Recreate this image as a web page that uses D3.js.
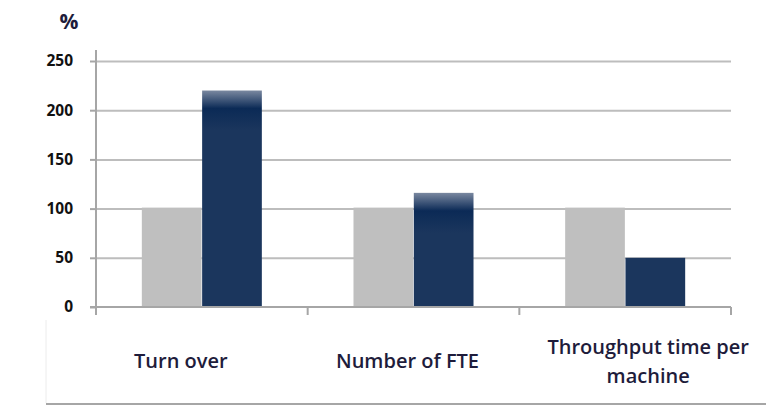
<!DOCTYPE html>
<html>
<head>
<meta charset="utf-8">
<script src="https://d3js.org/d3.v7.min.js"></script>
<style>
  body { margin: 0; background: #fff; }
  text { font-family: "Open Sans", sans-serif; }
</style>
</head>
<body>
<div id="chart-area"></div>
<script>
// data
const categories = ["Turn over", "Number of FTE", "Throughput time per machine"];
const categoryLines = [["Turn over"], ["Number of FTE"], ["Throughput time per", "machine"]];
const series = ["before", "after"];
const beforeValues = [101, 101, 101];
const afterValues = [220, 116, 50];
const yTicks = [0, 50, 100, 150, 200, 250];

const canvas_dims = { width: 766, height: 411 };
const margins = { top: 61, right: 35, bottom: 104, left: 96 };
const content_dims = {
  width: canvas_dims.width - margins.left - margins.right,
  height: canvas_dims.height - margins.top - margins.bottom
};
// small horizontal nudges of the category labels, as in the original
const labelNudge = [-21, -6, 23];

const svg = d3
  .select("#chart-area")
  .append("svg")
  .attr("width", canvas_dims.width)
  .attr("height", canvas_dims.height);

const defs = svg.append("defs");

const group = svg
  .append("g")
  .attr("transform", `translate(${margins.left},${margins.top})`);

const scales = {
  x0: d3
    .scaleBand()
    .domain(categories)
    .range([0, content_dims.width])
    .paddingInner(0.433)
    .paddingOuter(0.2165),
  y: d3.scaleLinear().domain([0, 250]).range([content_dims.height, 0])
};
scales.x1 = d3
  .scaleBand()
  .domain(series)
  .range([0, scales.x0.bandwidth()])
  .paddingInner(0.01);

const colors = { before: "#bfbfbf", after: "#1b365d" };

// gridlines
const grid = group
  .append("g")
  .attr("class", "grid")
  .call(
    d3.axisLeft(scales.y)
      .tickValues(yTicks.slice(1))
      .tickSize(-content_dims.width)
      .tickFormat("")
  );
grid.select(".domain").remove();
grid.selectAll("line").attr("stroke", "#bdbdbd").attr("stroke-width", 2);

// bars
const rows = categories.map((c, i) => ({
  category: c,
  values: [
    { key: "before", value: beforeValues[i] },
    { key: "after", value: afterValues[i] }
  ]
}));

// glossy top for the bars that rise above the baseline
rows.forEach((row, i) => {
  const top = scales.y(row.values[1].value);
  const grad = defs
    .append("linearGradient")
    .attr("id", `gloss-${i}`)
    .attr("gradientUnits", "userSpaceOnUse")
    .attr("x1", 0).attr("x2", 0)
    .attr("y1", top)
    .attr("y2", top + 40);
  grad.append("stop").attr("offset", "0%").attr("stop-color", "#7a88a0");
  grad.append("stop").attr("offset", "45%").attr("stop-color", "#0b2a56");
  grad.append("stop").attr("offset", "100%").attr("stop-color", colors.after);
});

const catGroups = group
  .selectAll("g.cat")
  .data(rows)
  .enter()
  .append("g")
  .attr("class", "cat")
  .attr("transform", d => `translate(${scales.x0(d.category)},0)`);

catGroups
  .selectAll("rect")
  .data((d, i) => d.values.map(v => ({ ...v, idx: i })))
  .enter()
  .append("rect")
  .attr("x", d => scales.x1(d.key))
  .attr("y", d => scales.y(d.value))
  .attr("width", scales.x1.bandwidth())
  .attr("height", d => content_dims.height - scales.y(d.value))
  .attr("fill", d =>
    d.key === "after" && d.value > 100 ? `url(#gloss-${d.idx})` : colors[d.key]
  );

// left axis
const yAxis = group
  .append("g")
  .attr("class", "left axis")
  .call(d3.axisLeft(scales.y).tickValues(yTicks).tickSize(6).tickPadding(17));
yAxis.select(".domain").remove();
yAxis.selectAll("line").attr("stroke", "#a6a6a6").attr("stroke-width", 2);
yAxis
  .selectAll("text")
  .attr("font-family", "Open Sans, sans-serif")
  .attr("font-size", "15.5px")
  .attr("font-weight", 700)
  .attr("fill", "#111");
group
  .append("line")
  .attr("x1", 0).attr("x2", 0)
  .attr("y1", -11).attr("y2", content_dims.height + 8)
  .attr("stroke", "#a6a6a6")
  .attr("stroke-width", 2);

// bottom axis with ticks at the category boundaries
const step = scales.x0.step();
const bounds = d3.range(categories.length + 1).map(i => i * step);
group
  .append("line")
  .attr("x1", -6).attr("x2", content_dims.width)
  .attr("y1", content_dims.height).attr("y2", content_dims.height)
  .attr("stroke", "#a6a6a6")
  .attr("stroke-width", 2);
group
  .selectAll("line.xtick")
  .data(bounds)
  .enter()
  .append("line")
  .attr("class", "xtick")
  .attr("x1", d => d).attr("x2", d => d)
  .attr("y1", content_dims.height).attr("y2", content_dims.height + 8)
  .attr("stroke", "#a6a6a6")
  .attr("stroke-width", 2);

// category labels
const lineGap = 29;
const labels = group
  .selectAll("text.cat-label")
  .data(categoryLines)
  .enter()
  .append("text")
  .attr("class", "cat-label")
  .attr("text-anchor", "middle")
  .attr("font-size", "20px")
  .attr("font-weight", 600)
  .attr("fill", "#1e1c3b")
  .attr("transform", (d, i) =>
    `translate(${scales.x0(categories[i]) + scales.x0.bandwidth() / 2 + labelNudge[i]},
      ${content_dims.height + 61 - ((d.length - 1) * lineGap) / 2})`
  );
labels
  .selectAll("tspan")
  .data(d => d)
  .enter()
  .append("tspan")
  .attr("x", 0)
  .attr("y", (d, i) => i * lineGap)
  .text(d => d);

// y axis-label
svg
  .append("text")
  .attr("x", 69)
  .attr("y", 29)
  .attr("text-anchor", "middle")
  .attr("font-size", "21px")
  .attr("font-weight", 700)
  .attr("fill", "#1e1c3b")
  .text("%");

// frame below the chart
svg
  .append("line")
  .attr("x1", 46).attr("x2", canvas_dims.width)
  .attr("y1", 404).attr("y2", 404)
  .attr("stroke", "#a6a6a6")
  .attr("stroke-width", 2);
svg
  .append("line")
  .attr("x1", 46).attr("x2", 46)
  .attr("y1", 320).attr("y2", 403)
  .attr("stroke", "#ececec")
  .attr("stroke-width", 1);
</script>
</body>
</html>
